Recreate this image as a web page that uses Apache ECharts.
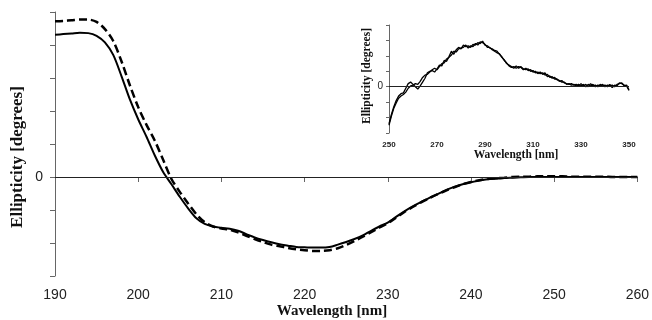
<!DOCTYPE html>
<html>
<head>
<meta charset="utf-8">
<script src="https://cdn.jsdelivr.net/npm/echarts@6.0.0/dist/echarts.min.js"></script>
<style>
  html, body { margin: 0; padding: 0; background: #fff; }
  #chart { width: 652px; height: 320px; }
</style>
</head>
<body>
<div id="chart"></div>
<script>
// main far-UV spectrum (190-260 nm, 1 nm steps)
const mainWl = [190,191,192,193,194,195,196,197,198,199,200,201,202,203,204,205,206,207,208,209,
  210,211,212,213,214,215,216,217,218,219,220,221,222,223,224,225,226,227,228,229,
  230,231,232,233,234,235,236,237,238,239,240,241,242,243,244,245,246,247,248,249,
  250,251,252,253,254,255,256,257,258,259,260]
const solidVals = [4.31,4.33,4.35,4.37,4.36,4.28,4.08,3.70,3.05,2.35,1.75,1.22,0.65,0.15,-0.22,-0.60,-0.95,-1.25,-1.42,-1.50,
  -1.54,-1.57,-1.63,-1.73,-1.83,-1.91,-1.98,-2.04,-2.08,-2.12,-2.13,-2.14,-2.14,-2.12,-2.05,-1.97,-1.88,-1.77,-1.63,-1.50,
  -1.38,-1.21,-1.04,-0.89,-0.76,-0.63,-0.52,-0.40,-0.30,-0.22,-0.16,-0.11,-0.07,-0.05,-0.03,-0.02,-0.01,0,0,0,
  0,0,0,0,0,0,0,0,0,0,0]
const dashedVals = [4.72,4.73,4.75,4.77,4.77,4.70,4.48,4.12,3.50,2.78,2.12,1.58,1.10,0.52,-0.06,-0.45,-0.80,-1.13,-1.37,-1.50,
  -1.56,-1.60,-1.68,-1.78,-1.88,-1.97,-2.05,-2.10,-2.15,-2.19,-2.22,-2.24,-2.24,-2.22,-2.16,-2.06,-1.94,-1.81,-1.67,-1.53,
  -1.40,-1.23,-1.06,-0.91,-0.77,-0.64,-0.52,-0.41,-0.31,-0.22,-0.15,-0.10,-0.06,-0.04,-0.02,0,0.01,0.01,0.02,0.02,
  0.02,0.02,0.01,0.01,0.01,0.01,0.01,0,0,0,0]

// inset near-UV spectrum (250-350 nm, 1 nm steps)
const insetWl = [250,251,252,253,254,255,256,257,258,259,260,261,262,263,264,265,266,267,268,269,
  270,271,272,273,274,275,276,277,278,279,280,281,282,283,284,285,286,287,288,289,
  290,291,292,293,294,295,296,297,298,299,300,301,302,303,304,305,306,307,308,309,
  310,311,312,313,314,315,316,317,318,319,320,321,322,323,324,325,326,327,328,329,
  330,331,332,333,334,335,336,337,338,339,340,341,342,343,344,345,346,347,348,349,350]
const insetA = [-2.4,-1.8,-1.3,-0.9,-0.6,-0.45,-0.4,-0.1,0.2,0.3,0.15,0.0,-0.15,0.05,0.3,0.55,0.9,1.0,1.05,0.95,
  1.15,1.4,1.35,1.7,1.65,1.95,2.3,2.1,2.4,2.55,2.45,2.7,2.6,2.65,2.55,2.75,2.7,2.85,2.8,2.95,
  2.7,2.65,2.5,2.45,2.35,2.3,2.1,1.95,1.7,1.55,1.35,1.25,1.3,1.2,1.3,1.25,1.1,1.2,1.05,1.1,
  0.95,1.0,0.85,0.95,0.8,0.9,0.65,0.7,0.55,0.6,0.45,0.35,0.4,0.25,0.2,0.15,0.2,0.1,0.15,0.05,
  0.2,0.05,0.15,0.0,0.2,0.05,0.1,0.0,0.15,0.05,0.1,0.0,0.15,-0.05,0.1,0.05,0.25,0.2,0.1,0.05,-0.25]
const insetB = [-2.5,-1.9,-1.4,-1.05,-0.75,-0.6,-0.5,-0.35,-0.1,0.05,0.1,0.2,0.15,0.35,0.6,0.75,0.8,0.95,1.1,1.2,
  1.1,1.3,1.5,1.55,1.8,1.9,2.05,2.3,2.25,2.45,2.5,2.55,2.7,2.5,2.65,2.6,2.8,2.7,2.9,2.85,
  2.75,2.55,2.55,2.4,2.3,2.2,2.15,1.9,1.75,1.5,1.4,1.3,1.2,1.35,1.2,1.3,1.15,1.1,1.15,1.0,
  1.05,0.9,0.95,0.85,0.9,0.75,0.8,0.6,0.65,0.5,0.5,0.4,0.3,0.3,0.15,0.2,0.1,0.15,0.05,0.15,
  0.05,0.15,0.0,0.15,0.05,0.15,0.0,0.1,0.05,0.15,0.0,0.1,0.05,0.1,0.0,0.15,0.2,0.25,0.05,0.1,-0.2]

const mainTicks = [190, 200, 210, 220, 230, 240, 250, 260]
const insetTicks = [250, 270, 290, 310, 330, 350]

const pair = (xs, ys) => xs.map((x, i) => [x, ys[i]])

const zeroLine = {
  silent: true,
  symbol: ['none', 'none'],
  label: { show: false },
  lineStyle: { color: '#222', type: 'solid', width: 1.2 },
  data: [{ yAxis: 0 }],
}

const axisGray = '#666'
const serif = '"Liberation Serif", "Times New Roman", serif'
const sans = '"Liberation Sans", Arial, sans-serif'

const myChart = echarts.init(document.getElementById('chart'))
const option = {
  animation: false,
  backgroundColor: '#fff',
  grid: [
    { left: 55, right: 12, top: 12, bottom: 44 },
    { left: 389, right: 23, top: 25, bottom: 187 },
  ],
  xAxis: [
    {
      gridIndex: 0, type: 'value', min: 190, max: 260, interval: 10,
      axisLine: { lineStyle: { color: axisGray, width: 1 } },
      axisTick: { show: true, inside: false, length: 5, lineStyle: { color: axisGray } },
      axisLabel: {
        margin: 12, fontSize: 14, color: '#222', fontFamily: sans,
        formatter: (v) => (mainTicks.includes(v) ? String(v) : ''),
      },
      splitLine: { show: false },
    },
    {
      gridIndex: 1, type: 'value', min: 250, max: 350, interval: 20,
      axisLine: { show: false },
      axisTick: { show: false },
      axisLabel: {
        margin: 8, fontSize: 8, fontWeight: 'bold', color: '#222', fontFamily: sans,
        formatter: (v) => (insetTicks.includes(v) ? String(v) : ''),
      },
      splitLine: { show: false },
    },
  ],
  yAxis: [
    {
      gridIndex: 0, type: 'value', min: -3, max: 5, interval: 1,
      axisLine: { show: true, lineStyle: { color: axisGray, width: 1 } },
      axisTick: { show: true, length: 5, lineStyle: { color: axisGray } },
      axisLabel: {
        margin: 12, fontSize: 14, color: '#222', fontFamily: sans,
        formatter: (v) => (v === 0 ? '0' : ''),
      },
      splitLine: { show: false },
    },
    {
      gridIndex: 1, type: 'value', min: -3, max: 4, interval: 1,
      axisLine: { show: true, lineStyle: { color: axisGray, width: 1 } },
      axisTick: { show: true, length: 3, lineStyle: { color: axisGray } },
      axisLabel: {
        margin: 6, fontSize: 10, color: '#222', fontFamily: sans,
        formatter: (v) => (v === 0 ? '0' : ''),
      },
      splitLine: { show: false },
    },
  ],
  graphic: [
    {
      type: 'text', x: 332, y: 311,
      style: { text: 'Wavelength [nm]', font: 'bold 15px ' + serif, fill: '#111', align: 'center', verticalAlign: 'middle' },
    },
    {
      type: 'text', x: 18, y: 157, rotation: Math.PI / 2,
      style: { text: 'Ellipticity [degrees]', font: 'bold 17px ' + serif, fill: '#111', align: 'center', verticalAlign: 'middle' },
    },
    {
      type: 'text', x: 516, y: 155,
      style: { text: 'Wavelength [nm]', font: 'bold 11.5px ' + serif, fill: '#111', align: 'center', verticalAlign: 'middle' },
    },
    {
      type: 'text', x: 367, y: 76, rotation: Math.PI / 2,
      style: { text: 'Ellipticity [degrees]', font: 'bold 11.5px ' + serif, fill: '#111', align: 'center', verticalAlign: 'middle' },
    },
  ],
  series: [
    {
      name: 'solid', type: 'line', xAxisIndex: 0, yAxisIndex: 0,
      data: pair(mainWl, solidVals), showSymbol: false, smooth: 0.3,
      lineStyle: { color: '#000', width: 2 },
      markLine: zeroLine,
    },
    {
      name: 'dashed', type: 'line', xAxisIndex: 0, yAxisIndex: 0,
      data: pair(mainWl, dashedVals), showSymbol: false, smooth: 0.3,
      lineStyle: { color: '#000', width: 2.5, type: [8, 4] },
    },
    {
      name: 'insetA', type: 'line', xAxisIndex: 1, yAxisIndex: 1,
      data: pair(insetWl, insetA), showSymbol: false,
      lineStyle: { color: '#000', width: 1.3 },
      markLine: zeroLine,
    },
    {
      name: 'insetB', type: 'line', xAxisIndex: 1, yAxisIndex: 1,
      data: pair(insetWl, insetB), showSymbol: false,
      lineStyle: { color: '#000', width: 1.3 },
    },
  ],
}
myChart.setOption(option)
</script>
</body>
</html>
